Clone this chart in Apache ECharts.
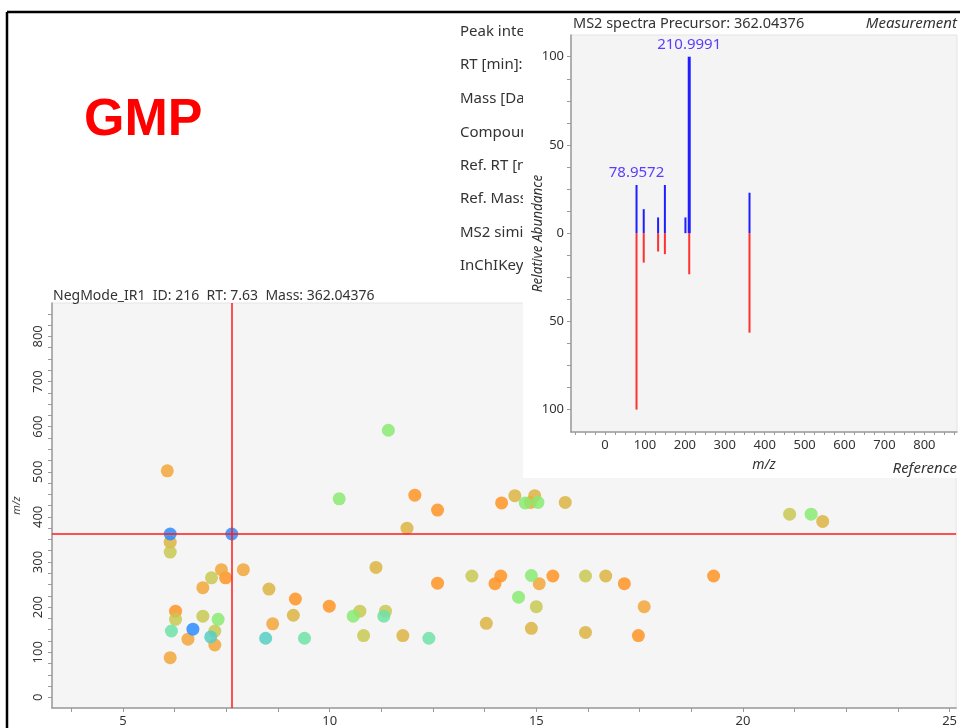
<!DOCTYPE html>
<html>
<head>
<meta charset="utf-8">
<script src="https://cdn.jsdelivr.net/npm/echarts@6/dist/echarts.min.js"></script>
<style>
  html, body { margin: 0; padding: 0; background: #ffffff; }
  #chart { width: 960px; height: 728px; }
</style>
</head>
<body>
<div id="chart"></div>
<script>
// ---- feature map: retention time [min] vs m/z, grouped by score colour ----
const orangePts = [[6.27,191],[7.48,265],[9.17,218],[9.99,202],[12.06,448],[12.61,415],[12.61,253],[14.16,431],[14.14,269],[14.00,252],[15.40,269],[17.13,252],[17.47,137],[19.29,269]];
const amberPts  = [[6.07,502],[6.14,88],[6.57,129],[6.93,243],[7.38,283],[7.22,116],[7.91,283],[8.62,163],[14.86,432],[15.07,252],[17.61,201]];
const goldPts   = [[6.14,344],[8.53,240],[9.12,182],[11.12,288],[11.77,137],[11.87,375],[14.48,447],[14.96,447],[15.70,432],[16.68,269],[14.88,153],[16.19,144],[21.93,390],[13.79,164]];
const olivePts  = [[6.14,322],[6.27,173],[6.93,180],[7.14,265],[7.22,147],[10.73,191],[10.82,137],[11.35,191],[13.44,269],[15.00,201],[16.19,269],[21.13,406]];
const greenPts  = [[7.30,173],[10.23,440],[10.57,180],[11.42,592],[14.73,431],[15.04,432],[14.88,270],[14.57,222],[21.65,406]];
const mintPts   = [[6.17,147],[9.39,131],[11.31,180],[12.40,131]];
const tealPts   = [[7.12,134],[8.45,131]];
const bluePts   = [[6.14,362],[6.69,151],[7.63,362]];

const rtLabels = [5, 10, 15, 20, 25];
const rtTicks = [3.75, 5, 6.25, 7.5, 8.75, 10, 11.25, 12.5, 13.75, 15, 16.25, 17.5, 18.75, 20, 21.25, 22.5, 23.75, 25];
const mzLabels = [0, 100, 200, 300, 400, 500, 600, 700, 800];
const mzTicks = [0,25,50,75,100,125,150,175,200,225,250,275,300,325,350,375,400,425,450,475,500,525,550,575,600,625,650,675,700,725,750,775,800,825,850];

// selected feature
const compoundName = 'GMP';
const featureTitle = 'NegMode_IR1  ID: 216  RT: 7.63  Mass: 362.04376';
const selectedRt = 7.63;
const precursorMz = 362.04376;

// ---- MS2 spectrum: measurement (up) and reference (down) ----
const measuredMz    = [78.9572, 97.0, 133.0, 150.0, 201.5, 210.9991, 362.0];
const measuredAbund = [27.3, 13.6, 8.9, 27.3, 8.9, 100, 22.9];
const referenceMz    = [78.96, 97.0, 133.0, 150.0, 211.0, 362.0];
const referenceAbund = [100, 16.7, 10.4, 11.9, 23.3, 56.4];
const labeledPeaks = [78.9572, 210.9991];
const specMzLabels = [0, 100, 200, 300, 400, 500, 600, 700, 800];
const specMzTicks = [-75,-50,-25,0,25,50,75,100,125,150,175,200,225,250,275,300,325,350,375,400,425,450,475,500,525,550,575,600,625,650,675,700,725,750,775,800,825,850,875];
const abundLabels = [-100, -50, 0, 50, 100];
const abundTicks = [-100,-87.5,-75,-62.5,-50,-37.5,-25,-12.5,0,12.5,25,37.5,50,62.5,75,87.5,100,112.5];

// side table (partly hidden behind the spectrum panel)
const infoRows = ['Peak inten', 'RT [min]:', 'Mass [Da]', 'Compoun', 'Ref. RT [m', 'Ref. Mass', 'MS2 simil', 'InChIKey'];

const FONT = "'Noto Sans', 'Open Sans', sans-serif";

const chart = echarts.init(document.getElementById('chart'), null, { renderer: 'canvas' });

function scatterSeries(name, data, color) {
  return {
    name, type: 'scatter', xAxisIndex: 0, yAxisIndex: 0, data,
    symbolSize: 13, z: 2,
    itemStyle: { color, opacity: 0.85 },
    silent: true
  };
}

function peakRenderer(color, withLabels) {
  return function (params, api) {
    const mz = api.value(0), ab = api.value(1);
    const base = api.coord([mz, 0]);
    const tip = api.coord([mz, ab]);
    const children = [{
      type: 'line',
      shape: { x1: base[0], y1: base[1], x2: tip[0], y2: tip[1] },
      style: { stroke: color, lineWidth: Math.abs(ab) >= 99 && withLabels ? 3 : 2 }
    }];
    if (withLabels && labeledPeaks.indexOf(mz) >= 0) {
      children.push({
        type: 'text',
        style: {
          text: String(mz), x: tip[0], y: tip[1] - 12,
          align: 'center', verticalAlign: 'middle',
          font: '15px ' + FONT, fill: '#5a3cff'
        }
      });
    }
    return { type: 'group', children };
  };
}

const textStyle = (t, x, y, opts) => Object.assign({
  type: 'text', x, y, z: 1,
  style: Object.assign({ text: t, font: '14px ' + FONT, fill: '#333', align: 'left', verticalAlign: 'middle' }, opts || {})
});

const graphics = [];
// outer frame
graphics.push({ type: 'line', z: 20, shape: { x1: 7, y1: 12, x2: 960, y2: 12 }, style: { stroke: '#000', lineWidth: 2.5 } });
graphics.push({ type: 'line', z: 20, shape: { x1: 7, y1: 12, x2: 7, y2: 728 }, style: { stroke: '#000', lineWidth: 2.5 } });
// compound name
graphics.push({ type: 'text', x: 84, y: 121, z: 10, style: { text: compoundName, font: 'bold 52px "Liberation Sans", Arial, sans-serif', fill: '#ff0000', align: 'left', verticalAlign: 'middle' } });
// side table rows
const rowY = [32, 65, 99, 133, 166, 199, 233, 266];
infoRows.forEach((r, i) => graphics.push(textStyle(r, 460, rowY[i], { font: '15px ' + FONT })));
// spectrum panel background
graphics.push({ type: 'rect', z: 5, shape: { x: 523, y: 13, width: 437, height: 465 }, style: { fill: '#ffffff' } });
// feature map title
graphics.push(Object.assign(textStyle(featureTitle, 53, 296), { z: 10 }));
// spectrum titles
graphics.push(Object.assign(textStyle('MS2 spectra Precursor: ' + precursorMz, 573, 24, { font: '14.5px ' + FONT }), { z: 10 }));
graphics.push(Object.assign(textStyle('Measurement', 957, 24, { align: 'right', font: 'italic 15px ' + FONT }), { z: 10 }));
graphics.push(Object.assign(textStyle('Reference', 957, 469, { align: 'right', font: 'italic 15px ' + FONT }), { z: 10 }));

const axisTextColor = '#333';

const option = {
  animation: false,
  backgroundColor: '#ffffff',
  grid: [
    { left: 52, top: 303, width: 908, height: 407, show: true, backgroundColor: '#f5f5f5', borderColor: '#e4e4e4', borderWidth: 1, z: 0 },
    { left: 571, top: 35, width: 386, height: 397, show: true, backgroundColor: '#f4f4f4', borderColor: '#e4e4e4', borderWidth: 1, z: 6 }
  ],
  xAxis: [
    {
      gridIndex: 0, type: 'value', min: 3.28, max: 25.16, z: 1,
      axisLine: { show: true, onZero: false, lineStyle: { color: '#9a9a9a', width: 1.5 } },
      axisTick: { show: true, length: 4, inside: false, customValues: rtTicks, lineStyle: { color: '#9a9a9a' } },
      axisLabel: { customValues: rtLabels, margin: 7, color: axisTextColor, fontSize: 13, fontFamily: FONT },
      splitLine: { show: false }
    },
    {
      gridIndex: 1, type: 'value', min: -85.2, max: 881.8, z: 7,
      name: 'm/z', nameLocation: 'middle', nameGap: 26, nameMoveOverlap: false,
      nameTextStyle: { fontStyle: 'italic', fontSize: 14, color: '#333', fontFamily: FONT },
      axisLine: { show: true, onZero: false, lineStyle: { color: '#9a9a9a', width: 1.5 } },
      axisTick: { show: true, length: 3, customValues: specMzTicks, lineStyle: { color: '#9a9a9a' } },
      axisLabel: { customValues: specMzLabels, margin: 7, color: axisTextColor, fontSize: 13, fontFamily: FONT },
      splitLine: { show: false }
    }
  ],
  yAxis: [
    {
      gridIndex: 0, type: 'value', min: -23.6, max: 874, z: 1,
      name: 'm/z', nameLocation: 'middle', nameGap: 30, nameRotate: 90, nameMoveOverlap: false,
      nameTextStyle: { fontStyle: 'italic', fontSize: 11, color: '#444', fontFamily: FONT },
      axisLine: { show: true, onZero: false, lineStyle: { color: '#9a9a9a', width: 1.5 } },
      axisTick: { show: true, length: 4, customValues: mzTicks, lineStyle: { color: '#9a9a9a' } },
      axisLabel: { customValues: mzLabels, rotate: 90, margin: 7, color: axisTextColor, fontSize: 13, fontFamily: FONT },
      splitLine: { show: false }
    },
    {
      gridIndex: 1, type: 'value', min: -112.7, max: 112.3, z: 7,
      name: 'Relative Abundance', nameLocation: 'middle', nameGap: 26, nameRotate: 90, nameMoveOverlap: false,
      nameTextStyle: { fontStyle: 'italic', fontSize: 13.5, color: '#333', fontFamily: FONT },
      axisLine: { show: true, onZero: false, lineStyle: { color: '#9a9a9a', width: 1.5 } },
      axisTick: { show: true, length: 4, customValues: abundTicks, lineStyle: { color: '#9a9a9a' } },
      axisLabel: { customValues: abundLabels, margin: 7, color: axisTextColor, fontSize: 13, fontFamily: FONT,
        formatter: v => String(Math.abs(v)) },
      splitLine: { show: false }
    }
  ],
  series: [
    scatterSeries('orange', orangePts, '#ff9424'),
    scatterSeries('amber', amberPts, '#f2a63a'),
    scatterSeries('gold', goldPts, '#dcb443'),
    scatterSeries('olive', olivePts, '#c8c852'),
    scatterSeries('green', greenPts, '#8aea72'),
    scatterSeries('mint', mintPts, '#6ee2a6'),
    scatterSeries('teal', tealPts, '#56cec4'),
    Object.assign(scatterSeries('blue', bluePts, '#2b8dff'), {
      markLine: {
        silent: true, symbol: 'none', label: { show: false },
        lineStyle: { color: '#ff1a1a', width: 1.5, type: 'solid' },
        data: [{ xAxis: selectedRt }, { yAxis: precursorMz }]
      }
    }),
    {
      name: 'reference', type: 'custom', xAxisIndex: 1, yAxisIndex: 1, z: 8,
      data: referenceMz.map((m, i) => [m, -referenceAbund[i]]),
      renderItem: peakRenderer('#ff3030', false),
      markLine: {
        silent: true, symbol: 'none', label: { show: false },
        lineStyle: { color: '#a8a8a8', width: 2, type: 'solid' },
        data: [{ yAxis: 0 }]
      }
    },
    {
      name: 'measurement', type: 'custom', xAxisIndex: 1, yAxisIndex: 1, z: 9,
      data: measuredMz.map((m, i) => [m, measuredAbund[i]]),
      renderItem: peakRenderer('#1e1eff', true)
    }
  ],
  graphic: graphics
};

chart.setOption(option);
</script>
</body>
</html>
